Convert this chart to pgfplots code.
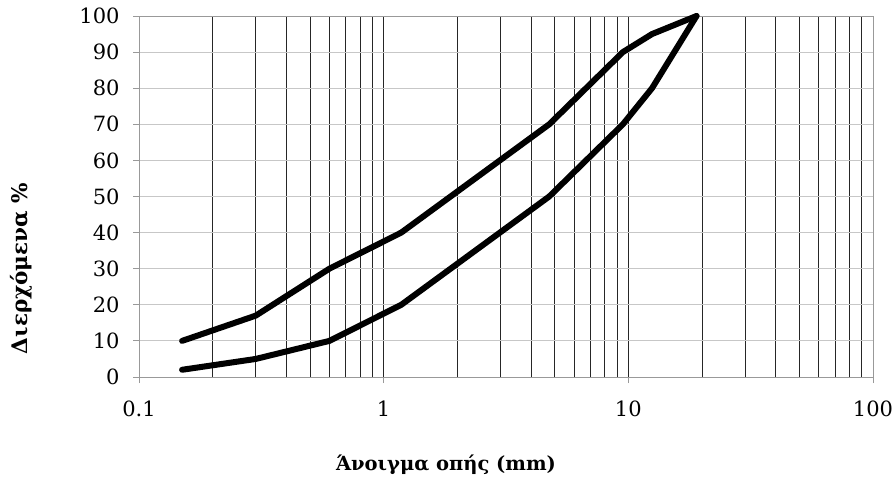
\documentclass[border=0pt]{standalone}
\usepackage{pgfplots}
\pgfplotsset{compat=1.18}
\usepackage{fontspec}
\setmainfont{DejaVu Serif}
\begin{document}
\begin{tikzpicture}
\begin{axis}[
  name=ax,
  scale only axis, width=734bp, height=361bp,
  xmode=log, log basis x=10,
  xmin=0.1, xmax=100, ymin=0, ymax=100,
  xtick={0.1,1,10,100}, xticklabels={0.1,1,10,100},
  minor xtick={0.2,0.3,0.4,0.5,0.6,0.7,0.8,0.9,2,3,4,5,6,7,8,9,20,30,40,50,60,70,80,90},
  ytick={0,10,...,100},
  /pgf/number format/assume math mode=true,
  xmajorgrids, xminorgrids, ymajorgrids,
  major x grid style={black!85, line width=0.7bp},
  minor x grid style={black!85, line width=0.7bp},
  major y grid style={black!22, line width=0.9bp},
  axis line style={black!40, line width=0.9bp},
  tick pos=left, tick align=outside,
  major tick length=6bp, minor tick length=0pt,
  tick style={black!40, line width=0.9bp},
  ticklabel style={font=\fontsize{21bp}{23bp}\selectfont},
  xticklabel style={yshift=-14bp},
  yticklabel style={xshift=-10bp},
  xlabel={\textbf{Άνοιγμα οπής (mm)}},
  label style={font=\fontsize{19.5bp}{22bp}\selectfont},
  xlabel style={at={(axis description cs:0.5,0)}, anchor=center, xshift=-60bp, yshift=-88bp},
  clip=false,
]
\addplot[black, line width=6bp, line join=round, line cap=round] coordinates {
 (0.15,10) (0.3,17) (0.6,30) (1.18,40) (4.75,70) (9.5,90) (12.5,95) (19,100)};
\addplot[black, line width=6bp, line join=round, line cap=round] coordinates {
 (0.15,2) (0.3,5) (0.6,10) (1.18,20) (4.75,50) (9.5,70) (12.5,80) (19,100)};
\end{axis}
\node[rotate=90, anchor=center, font=\fontsize{21.5bp}{24bp}\selectfont] at ([xshift=-118bp, yshift=-72bp]ax.west) {\textbf{Διερχόμενα \%}};
\pgfresetboundingbox
\path[use as bounding box] ([xshift=-139bp,yshift=-102bp]ax.south west) rectangle ([xshift=22bp,yshift=16bp]ax.north east);
\end{tikzpicture}
\end{document}
